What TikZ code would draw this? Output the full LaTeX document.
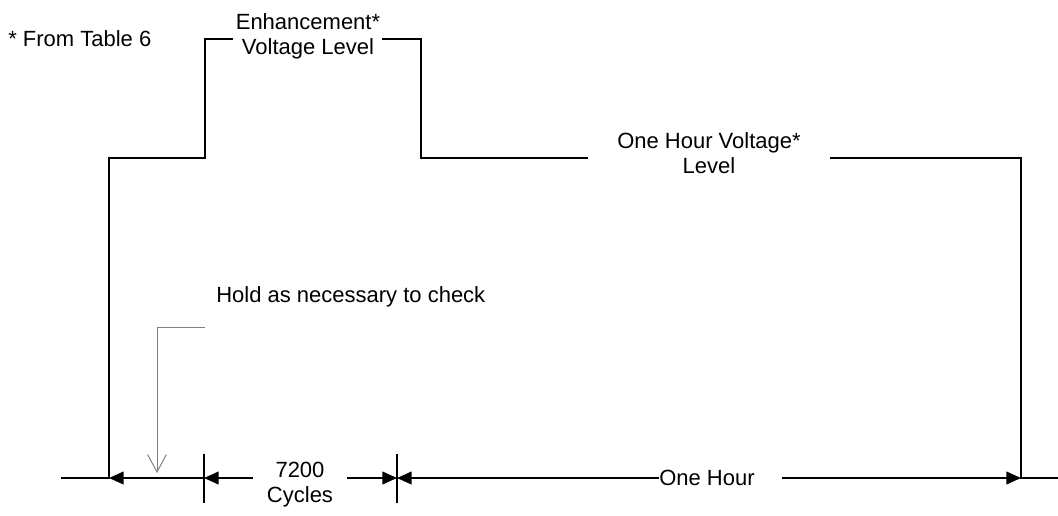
\documentclass[tikz,border=0pt]{standalone}
\usepackage{fontspec}
\setmainfont{Liberation Sans}
\usetikzlibrary{arrows.meta,positioning}

\begin{document}
\begin{tikzpicture}[x=0.75pt,y=-0.75pt,
				wave/.style={line width=1.5pt},
				dimarrow/.style={-{Triangle[length=11pt,width=9.5pt]}, line width=1.5pt},
				leader/.style={draw=gray, line width=0.75pt, -{Straight Barb[length=13pt,width=14pt]}},
				lbl/.style={font=\fontsize{16.5}{19}\selectfont, align=center, inner sep=0pt}
				]
				\useasboundingbox (0,0) rectangle (1058,515);
				
				% labels
				\node[lbl, anchor=north west] (note) at (8,30) {* From Table 6};
				\node[lbl, anchor=north] (enh) at (308,13) {Enhancement*\\Voltage Level};
				\node[lbl, anchor=north] (onehr) at (709,132) {One Hour Voltage*\\Level};
				\node[lbl, anchor=north west] (hold) at (216,286) {Hold as necessary to check};
				\node[lbl, anchor=north, inner xsep=10.5pt] (cyc) at (300,462) {7200\\Cycles};
				\node[lbl] (hour) at (707,478) {One Hour};
				
				% voltage waveform
				\draw[wave] (61,478) -- (109,478) -- (109,158) -- (205,158) -- (205,39) -- (233,39);
				\draw[wave] (382,39) -- (421,39) -- (421,158) -- (588,158);
				\draw[wave] (830,158) -- (1021,158) -- (1021,478) -- (1058,478);
				
				% time marks
				\coordinate (t0) at (109,478);
				\coordinate (t1) at (204,478);
				\coordinate (t2) at (397,478);
				\coordinate (t3) at (1021,478);
				\draw[wave] ([yshift=18pt]t1) -- ([yshift=-18.75pt]t1);
				\draw[wave] ([yshift=18pt]t2) -- ([yshift=-18.75pt]t2);
				
				% dimensions
				\draw[dimarrow, {Triangle[length=11pt,width=9.5pt]}-] (t0) -- (t1);
				\draw[dimarrow] (cyc.west |- t1) -- (t1);
				\draw[dimarrow] (cyc.east |- t2) -- (t2);
				\draw[dimarrow] (hour.west) -- (t2);
				\draw[dimarrow] ([xshift=20pt]hour.east) -- (t3);
				
				% hold leader
				\coordinate (h0) at (205,327);
				\coordinate (h1) at (157,327);
				\coordinate (h2) at (157,473);
				\draw[leader] (h0) -- (h1) -- (h2);
\end{tikzpicture}
\end{document}
